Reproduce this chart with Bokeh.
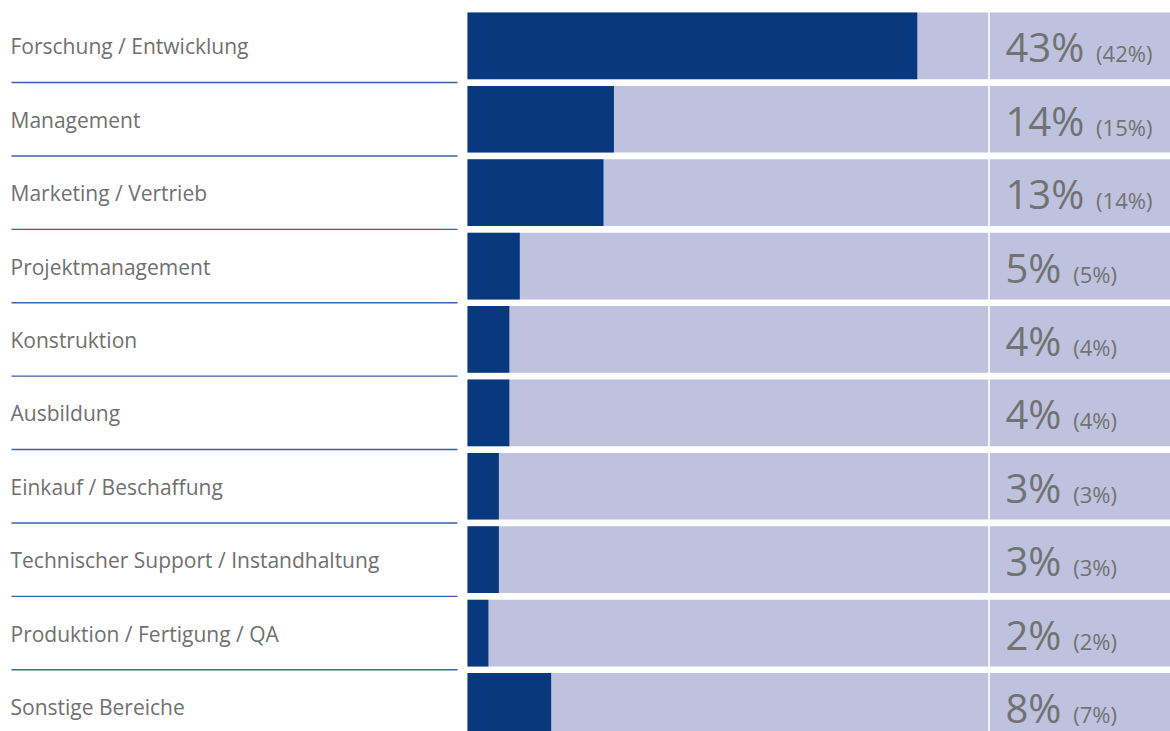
from bokeh.plotting import figure
from bokeh.models import Range1d, ColumnDataSource
from bokeh.core.properties import value
from bokeh.embed import file_html
from bokeh.resources import INLINE

# ---- data ----
categories = [
    "Forschung / Entwicklung",
    "Management",
    "Marketing / Vertrieb",
    "Projektmanagement",
    "Konstruktion",
    "Ausbildung",
    "Einkauf / Beschaffung",
    "Technischer Support / Instandhaltung",
    "Produktion / Fertigung / QA",
    "Sonstige Bereiche",
]
current_pct = [43, 14, 13, 5, 4, 4, 3, 3, 2, 8]
previous_pct = [42, 15, 14, 5, 4, 4, 3, 3, 2, 7]

# ---- layout constants ----
PX_PER_PCT = 10.46
ZERO_PX = 467.0
ROW_PX = 73.4
ROW0_PX = 45.35
W, H = 1170, 731

def xdat(px):
    return (px - ZERO_PX) / PX_PER_PCT

def ydat(px):
    return (px - ROW0_PX) / ROW_PX

rows = list(range(len(categories)))
big_font = 40
small_font = 22
lab_font = 21
big_txt = [f"{v}%" for v in current_pct]
small_txt = [f"({v}%)" for v in previous_pct]
small_off = [(len(str(v)) * 0.572 + 0.845) * big_font + 11 for v in current_pct]

src = ColumnDataSource(dict(
    y=rows,
    cur=current_pct,
    cat=categories,
    big=big_txt,
    small=small_txt,
    small_off=small_off,
    y_lab=[r + 0.5 / ROW_PX for r in rows],
    y_num=[r + 1.0 / ROW_PX for r in rows],
    y_small=[r + 7.5 / ROW_PX for r in rows],
    bg_right=[200] * len(rows),
))

p = figure(
    width=W, height=H,
    x_range=Range1d(xdat(0), xdat(W)),
    y_range=Range1d(ydat(H), ydat(0)),
    output_backend="svg", toolbar_location=None,
    min_border=0,
)
p.axis.visible = False
p.grid.visible = False
p.outline_line_color = None
p.background_fill_color = "white"
p.border_fill_color = "white"

bar_h = 66.7 / ROW_PX

# background bars
p.hbar(y="y", left=0, right="bg_right", height=bar_h, source=src,
       fill_color="#bfc2de", line_color=None)
# value bars
p.hbar(y="y", left=0, right="cur", height=bar_h, source=src,
       fill_color="#08397f", line_color=None)

# white vertical divider
p.segment(x0=[xdat(988.5)], y0=[-2], x1=[xdat(988.5)], y1=[12],
          line_color="white", line_width=1.6)

# separators under labels
sep_y = [r + 0.5 for r in rows[:-1]]
p.segment(x0=[xdat(11)] * len(sep_y), y0=sep_y,
          x1=[xdat(457)] * len(sep_y), y1=sep_y,
          line_color="#3a62a6", line_width=1.4)

# category labels
p.text(x=xdat(10), y="y_lab", text="cat", source=src,
       text_font=value("Open Sans"), text_font_size=f"{lab_font}px",
       text_color="#707070", text_baseline="alphabetic", text_align="left")

# big percentages
p.text(x=xdat(1005), y="y_num", text="big", source=src,
       text_font=value("Open Sans"), text_font_size=f"{big_font}px",
       text_color="#727272", text_baseline="alphabetic", text_align="left")

# previous-year percentages
p.text(x=xdat(1005), y="y_small", text="small", x_offset="small_off", source=src,
       text_font=value("Open Sans"), text_font_size=f"{small_font}px",
       text_color="#727272", text_baseline="alphabetic", text_align="left")

open("out.html", "w").write(file_html(p, INLINE))
